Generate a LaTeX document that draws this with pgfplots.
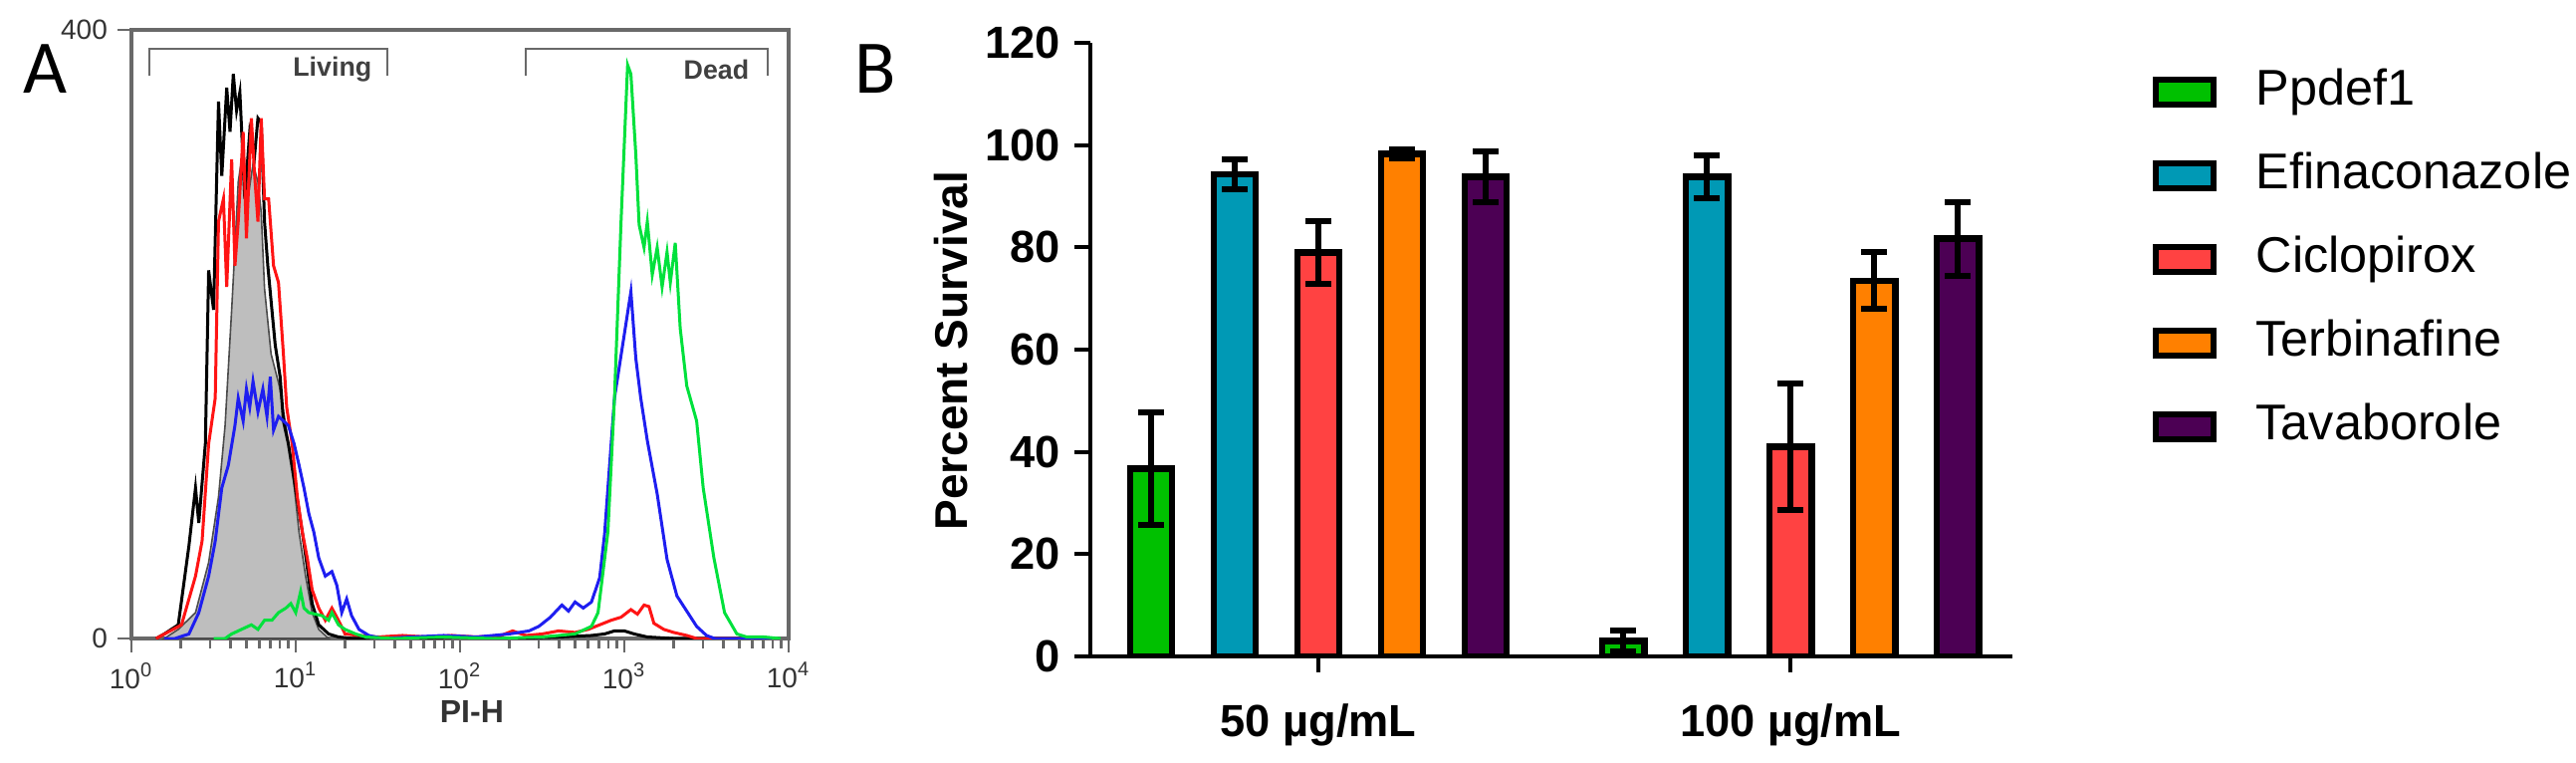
\documentclass[border=0pt]{standalone}
\usepackage{fontspec}
\setmainfont{Liberation Sans}
\newfontfamily\calibri{Carlito}
\usepackage{pgfplots}
\usepackage{pgfplotstable}
\pgfplotsset{compat=1.18}
\definecolor{cgreen}{RGB}{0,192,0}
\definecolor{cteal}{RGB}{0,153,181}
\definecolor{cred}{RGB}{255,66,66}
\definecolor{corange}{RGB}{255,128,0}
\definecolor{cpurple}{RGB}{76,0,84}
\definecolor{hred}{RGB}{255,20,20}
\definecolor{hblue}{RGB}{30,30,240}
\definecolor{hgreen}{RGB}{0,225,60}
\definecolor{hgray}{RGB}{190,190,190}
\definecolor{axgray}{RGB}{105,105,105}

\pgfplotstableread{
lx c
0.20 0
0.285 6
0.39 17
0.47 50
0.53 93
0.57 140
0.61 216
0.63 257
0.65 300
0.68 322
0.71 290
0.74 312
0.77 300
0.79 280
0.81 230
0.85 187
0.90 166
0.94 140
0.98 111
1.02 70
1.06 41
1.10 17
1.14 6
1.20 0
}\graydata

\pgfplotstableread{
lx c
0.15 0
0.20 3
0.285 9
0.35 61
0.39 99
0.41 76
0.45 128
0.47 242
0.50 216
0.53 353
0.55 304
0.58 362
0.60 333
0.62 371
0.64 347
0.66 359
0.69 289
0.72 333
0.75 318
0.77 342
0.79 339
0.81 274
0.83 245
0.855 216
0.875 193
0.905 172
0.925 143
0.955 128
0.998 99
1.04 70
1.07 47
1.10 23
1.14 9
1.20 3
1.26 1
1.35 0
1.5 1
1.7 0
2.0 1
2.3 0
2.6 1
2.8 2
2.88 3
2.94 5
3.00 5
3.06 3
3.14 1
3.3 0
3.9 0
}\blackdata

\pgfplotstableread{
lx c
0.15 0
0.305 9
0.39 41
0.43 64
0.47 128
0.51 158
0.53 274
0.56 289
0.58 231
0.61 315
0.63 245
0.65 274
0.68 333
0.70 263
0.73 342
0.75 304
0.77 274
0.79 342
0.81 289
0.835 289
0.865 245
0.895 234
0.925 187
0.945 152
0.978 128
1.01 93
1.04 70
1.07 53
1.10 32
1.14 20
1.18 12
1.22 20
1.26 12
1.30 3
1.385 2
1.5 1
1.65 2
1.8 1
1.95 2
2.1 1
2.25 2
2.32 5
2.4 2
2.5 3
2.6 5
2.7 4
2.78 6
2.85 9
2.92 12
2.98 14
3.04 19
3.08 16
3.12 22
3.15 21
3.18 10
3.24 6
3.30 4
3.38 2
3.44 0
3.9 0
}\reddata

\pgfplotstableread{
lx c
0.2 0
0.265 0
0.35 3
0.41 17
0.47 41
0.51 64
0.55 99
0.59 114
0.63 140
0.65 158
0.68 143
0.70 164
0.72 152
0.74 169
0.77 149
0.80 164
0.825 146
0.845 172
0.865 137
0.895 146
0.925 143
0.955 140
0.99 128
1.02 114
1.05 99
1.08 82
1.11 70
1.14 53
1.18 41
1.22 44
1.25 35
1.28 17
1.31 26
1.34 15
1.385 6
1.445 2
1.53 0
1.7 1
1.9 2
2.1 1
2.3 3
2.42 5
2.48 8
2.55 14
2.62 22
2.66 18
2.70 24
2.75 20
2.80 24
2.85 40
2.88 69
2.94 158
3.00 200
3.04 228
3.07 184
3.10 158
3.14 130
3.20 95
3.26 52
3.32 28
3.38 18
3.44 8
3.50 2
3.55 0
3.9 0
}\bluedata

\pgfplotstableread{
lx c
0.5 0
0.57 0
0.61 3
0.67 6
0.73 9
0.77 6
0.81 12
0.855 12
0.895 17
0.94 20
0.97 23
1.00 17
1.03 31
1.05 20
1.08 17
1.12 16
1.16 15
1.20 12
1.22 17
1.26 9
1.30 6
1.365 3
1.425 1
1.6 0
1.9 1
2.2 0
2.5 1
2.7 3
2.8 8
2.84 17
2.90 70
2.94 158
2.98 274
3.02 377
3.04 371
3.07 318
3.09 272
3.12 257
3.14 274
3.17 239
3.20 257
3.23 231
3.26 254
3.28 234
3.31 260
3.34 204
3.38 166
3.44 143
3.48 99
3.545 53
3.61 17
3.685 3
3.745 1
3.85 1
3.95 0
}\greendata

% bar chart data: x = bar position (group 0 = 50 ug/mL, group 1 = 100 ug/mL), mean, error
\pgfplotstableread{
x y e
-0.3543 36.7 11
0.6457 3 2
}\ppdef
\pgfplotstableread{
x y e
-0.1772 94.3 3
0.8228 93.8 4.2
}\efin
\pgfplotstableread{
x y e
0 79 6.2
1 41 12.3
}\ciclo
\pgfplotstableread{
x y e
0.1772 98.3 0.9
1.1772 73.5 5.5
}\terb
\pgfplotstableread{
x y e
0.3543 93.8 5
1.3543 81.7 7.2
}\tava

\begin{document}
\begin{tikzpicture}
\useasboundingbox (0,0) rectangle (646.75pt,191.25pt);

\node[anchor=base west, inner sep=0pt] at (5.75pt,168pt) {\calibri\fontsize{19}{20}\selectfont A};
\node[anchor=base west, inner sep=0pt] at (214.5pt,168pt) {\calibri\fontsize{19}{20}\selectfont B};

% Panel A
\begin{axis}[
  at={(33pt,31pt)}, anchor=south west,
  width=165pt, height=152.75pt, scale only axis,
  xmin=0, xmax=4, ymin=0, ymax=400,
  axis line style={draw=axgray, line width=0.8pt},
  xtick={0,1,2,3,4},
  xticklabels={10\textsuperscript{0},10\textsuperscript{1},10\textsuperscript{2},10\textsuperscript{3},10\textsuperscript{4}},
  minor xtick={0.30103,0.47712,0.60206,0.69897,0.77815,0.84510,0.90309,0.95424,
    1.30103,1.47712,1.60206,1.69897,1.77815,1.84510,1.90309,1.95424,
    2.30103,2.47712,2.60206,2.69897,2.77815,2.84510,2.90309,2.95424,
    3.30103,3.47712,3.60206,3.69897,3.77815,3.84510,3.90309,3.95424},
  ytick={0,400},
  tick align=outside,
  xtick pos=bottom, ytick pos=left,
  major tick length=3.5pt, minor tick length=2.5pt,
  tick style={draw=axgray, line width=0.6pt},
  ticklabel style={font=\fontsize{7}{8}\selectfont, text=black!80},
  /pgf/number format/assume math mode=true,
  xticklabel style={yshift=1pt},
  yticklabel style={xshift=1pt},
  xlabel={\bfseries PI-H},
  xlabel style={font=\fontsize{8}{9}\selectfont, text=black!80, at={(axis description cs:0.518,-0.120)}, anchor=center},
]
\addplot[fill=hgray, draw=black!70, line width=0.4pt] table[x=lx,y=c] {\graydata} \closedcycle;
\addplot[black, line width=0.75pt] table[x=lx,y=c] {\blackdata};
\addplot[hred, line width=0.75pt] table[x=lx,y=c] {\reddata};
\addplot[hblue, line width=0.75pt] table[x=lx,y=c] {\bluedata};
\addplot[hgreen, line width=0.75pt] table[x=lx,y=c] {\greendata};
% gate brackets
\draw[axgray, line width=0.7pt] (axis cs:0.109,370) -- (axis cs:0.109,387.6) -- (axis cs:1.558,387.6) -- (axis cs:1.558,370);
\draw[axgray, line width=0.7pt] (axis cs:2.40,370) -- (axis cs:2.40,387.6) -- (axis cs:3.873,387.6) -- (axis cs:3.873,370);
\node[anchor=east, inner sep=0pt, font=\fontsize{6.7}{7}\selectfont\bfseries, text=black!75] at (axis cs:1.467,374) {Living};
\node[anchor=east, inner sep=0pt, font=\fontsize{6.7}{7}\selectfont\bfseries, text=black!75] at (axis cs:3.764,374) {Dead};
\end{axis}

% Panel B
\begin{axis}[
  at={(273.75pt,26.5pt)}, anchor=south west,
  width=231.5pt, height=154pt, scale only axis,
  xmin=-0.483, xmax=1.47, ymin=0, ymax=120,
  axis lines=left,
  x axis line style={-, line width=1pt},
  y axis line style={-, line width=1pt},
  xtick={0,1}, xticklabels={50 µg/mL, 100 µg/mL},
  ytick={0,20,40,60,80,100,120},
  tick align=outside, major tick length=4pt,
  tick style={line width=1pt, black},
  ticklabel style={font=\fontsize{11.3}{13}\selectfont\bfseries},
  xticklabel style={yshift=-4.5pt},
  /pgf/number format/assume math mode=true,
  ylabel={Percent Survival},
  ylabel style={font=\fontsize{11.5}{13}\selectfont\bfseries, at={(axis description cs:-0.151,0.498)}, anchor=center},
  legend style={at={(axis description cs:1.151,0.958)}, anchor=north west, draw=none, fill=none,
    inner sep=0pt, font=\fontsize{12.6}{14}\selectfont, row sep=9.5pt,
    nodes={inner ysep=0pt, inner xsep=0pt, text height=9pt, text depth=2.5pt}},
  legend cell align=left,
  mybar/.style={ybar, bar width=10.6pt, bar shift=0pt, draw=black, line width=1.6pt},
  myerr/.style={error bars/.cd, y dir=both, y explicit,
    error bar style={line width=1.5pt, black},
    error mark options={rotate=90, mark size=3.25pt, line width=1.5pt, black}},
  mylegend/.style={legend image code/.code={\draw[##1, line width=1.5pt, draw=black] (0.75pt,-3.1pt) rectangle (15.25pt,3.1pt); \path[draw=none, fill=none] (0pt,0pt) -- (26pt,0pt);}},
]
\addplot[mybar, fill=cgreen, mylegend, myerr] table[x=x,y=y,y error=e] {\ppdef};
\addplot[mybar, fill=cteal, mylegend, myerr] table[x=x,y=y,y error=e] {\efin};
\addplot[mybar, fill=cred, mylegend, myerr] table[x=x,y=y,y error=e] {\ciclo};
\addplot[mybar, fill=corange, mylegend, myerr] table[x=x,y=y,y error=e] {\terb};
\addplot[mybar, fill=cpurple, mylegend, myerr] table[x=x,y=y,y error=e] {\tava};
\legend{Ppdef1, Efinaconazole, Ciclopirox, Terbinafine, Tavaborole}
\end{axis}
\end{tikzpicture}
\end{document}
